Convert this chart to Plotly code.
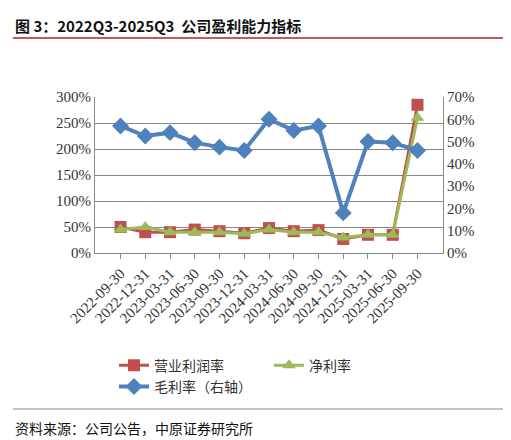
import plotly.graph_objects as go

quarters = ["2022-09-30", "2022-12-31", "2023-03-31", "2023-06-30", "2023-09-30", "2023-12-31",
            "2024-03-31", "2024-06-30", "2024-09-30", "2024-12-31", "2025-03-31", "2025-06-30", "2025-09-30"]
op_margin = [50, 40, 40, 45, 42, 38, 48, 42, 44, 27, 35, 35, 285]
net_margin = [45, 50, 40, 40, 40, 37, 45, 40, 40, 30, 35, 35, 260]
gross_margin = [57, 52.5, 54, 49.5, 47.5, 46, 60, 55, 57, 18, 50, 49.5, 46]

fig = go.Figure()
fig.add_trace(go.Scatter(x=quarters, y=op_margin, name="营业利润率", mode="lines+markers",
                         line=dict(color="#C0504D", width=3),
                         marker=dict(symbol="square", size=12, color="#C0504D")))
fig.add_trace(go.Scatter(x=quarters, y=net_margin, name="净利率", mode="lines+markers",
                         line=dict(color="#9BBB59", width=3),
                         marker=dict(symbol="triangle-up", size=12, color="#9BBB59")))
fig.add_trace(go.Scatter(x=quarters, y=gross_margin, name="毛利率（右轴）", mode="lines+markers",
                         yaxis="y2", line=dict(color="#4F81BD", width=4),
                         marker=dict(symbol="diamond", size=13, color="#4F81BD")))

tick_font = dict(family="Liberation Serif, serif", size=15, color="#333")
fig.update_layout(
    width=511, height=440, paper_bgcolor="white", plot_bgcolor="white",
    margin=dict(l=87, r=76, t=89, b=195),
    showlegend=True,
    legend=dict(orientation="h", x=0.5, xanchor="center", y=-0.62, yanchor="top",
                font=dict(family="Noto Sans CJK SC", size=14, color="#333"), entrywidth=110),
    xaxis=dict(type="category", tickangle=-45, tickfont=tick_font, showline=True,
               linecolor="#888", ticks="outside", ticklen=5, tickcolor="#888", showgrid=False),
    yaxis=dict(range=[0, 300], dtick=50, ticksuffix="%", tickfont=tick_font, showline=True,
               linecolor="#888", gridcolor="#888", gridwidth=1, zeroline=False),
    yaxis2=dict(range=[0, 70], dtick=10, ticksuffix="%", tickfont=tick_font, overlaying="y",
                side="right", showline=True, linecolor="#888", showgrid=False, zeroline=False),
)
fig.add_annotation(text="<b>图 3：2022Q3-2025Q3  公司盈利能力指标</b>", xref="paper", yref="paper",
                   x=-0.236, y=1.46, xanchor="left", yanchor="middle", showarrow=False,
                   font=dict(family="Noto Sans CJK SC", size=15, color="#111"))
fig.add_shape(type="line", xref="paper", yref="paper", x0=-0.236, x1=1.2, y0=1.378, y1=1.378,
              line=dict(color="#B22222", width=1.5))
fig.add_shape(type="line", xref="paper", yref="paper", x0=-0.236, x1=1.2, y0=-1.0, y1=-1.0,
              line=dict(color="#888", width=1))
fig.add_annotation(text="资料来源：公司公告，中原证券研究所", xref="paper", yref="paper",
                   x=-0.236, y=-1.12, xanchor="left", yanchor="middle", showarrow=False,
                   font=dict(family="Noto Sans CJK SC", size=14, color="#111"))
fig.write_html("out.html")
